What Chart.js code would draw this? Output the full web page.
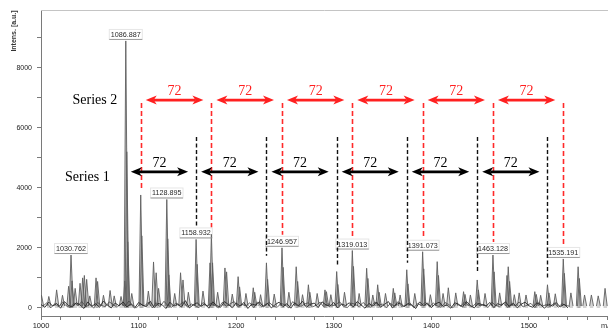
<!DOCTYPE html>
<html>
<head>
<meta charset="utf-8">
<script src="https://cdn.jsdelivr.net/npm/chart.js@4/dist/chart.umd.min.js"></script>
<style>
  html, body { margin: 0; padding: 0; background: #fff; }
  #wrap { width: 608px; height: 333px; }
</style>
</head>
<body>
<div id="wrap"><canvas id="c" width="608" height="333"></canvas></div>
<script>
// Peak list of the spectrum: m/z and intensity [a.u.]
const peakMz = [
  1000.5, 1008, 1016, 1022, 1028.3, 1030.762, 1031.8, 1035, 1040, 1042.7,
  1044.4, 1046.8, 1050, 1056.4, 1058, 1064, 1070.8, 1075, 1082, 1085.9,
  1086.887, 1087.9, 1088.9, 1093, 1102.2, 1103.3, 1110, 1115.3, 1118, 1120.5,
  1128.895, 1129.9, 1131, 1137, 1143, 1145.5, 1151, 1158.932, 1160, 1166,
  1173.2, 1174.6, 1175.8, 1181, 1188.5, 1190.2, 1196, 1202, 1203.5, 1210,
  1217.5, 1219, 1225, 1231.0, 1232.2, 1239, 1246.957, 1248.1, 1254, 1261.5,
  1263, 1268, 1274, 1275.5, 1283, 1291, 1292.5, 1297, 1303.0, 1304.2,
  1311, 1319.013, 1320.2, 1326, 1333.7, 1335, 1340, 1345, 1346.5, 1353,
  1361, 1362.5, 1368, 1374.8, 1376, 1383, 1391.073, 1392.2, 1399, 1406,
  1407.3, 1412, 1417.4, 1425, 1433, 1434.5, 1440, 1447.0, 1448.2, 1455,
  1463.128, 1464.3, 1470, 1477.5, 1478.8, 1480.2, 1485, 1490, 1497, 1506,
  1507.5, 1512, 1519.0, 1520.5, 1527, 1535.191, 1536.3, 1543, 1550.4, 1551.6,
  1557, 1564, 1571, 1578
];
const peakInt = [
  420, 380, 600, 420, 720, 1760, 900, 650, 820, 1000,
  1080, 950, 400, 1000, 880, 420, 580, 400, 380, 900,
  8890, 5200, 2200, 480, 3760, 2400, 560, 1530, 1170, 650,
  3610, 2300, 1100, 480, 1170, 930, 520, 2280, 1450, 560,
  1500, 2450, 1500, 520, 1330, 1200, 460, 1040, 700, 480,
  670, 520, 440, 1500, 950, 460, 2000, 1350, 520, 1370,
  880, 440, 770, 520, 480, 600, 540, 440, 1210, 780,
  520, 1910, 1380, 480, 1320, 980, 430, 770, 520, 480,
  650, 500, 430, 1270, 800, 480, 1870, 1300, 440, 1540,
  1080, 480, 670, 500, 540, 450, 430, 930, 600, 480,
  1760, 1200, 500, 1080, 1370, 880, 440, 500, 430, 540,
  450, 420, 770, 500, 470, 1630, 1150, 500, 1370, 980,
  430, 430, 400, 650
];

// Baseline noise of two overlaid acquisitions, one value every 4 m/z
const noiseStep = 4;
const noiseA = [
  110, 20, 190, 60, 150, -10, 210, 80, 30, 170, 100, -20, 200, 50, 140, 20, 230, 90, 0, 160,
  70, 200, 30, 130, -10, 180, 90, 40, 220, 10, 150, 110, -20, 190, 60, 120, 30, 240, 0, 100,
  170, 50, 140, -10, 200, 80, 20, 210, 110, 10, 160, 60, 180, -20, 130, 90, 200, 30, 150, 0,
  110, 190, 40, 140, -10, 170, 70, 220, 20, 120, 160, 10, 200, 100, 50, 180, 0, 130, 80, 170,
  30, 210, 100, -10, 150, 60, 190, 20, 120, 210, 0, 110, 170, 40, 140, 90, -20, 200, 70, 160,
  10, 130, 190, 50, 100, -10, 170, 120, 30, 210, 80, 0, 150, 110, 60, 180, 10, 140, 90, 200,
  40, 160, 0, 120, 190, 70, 20, 170, 100, -10, 130, 60, 180, 30, 120, 0
];
const noiseB = [
  60, 170, 0, 140, 40, 190, 70, 10, 160, 90, 210, 30, 120, -10, 180, 80, 40, 200, 110, 20,
  150, 50, 230, 90, 10, 140, 60, 190, 0, 170, 40, 220, 80, 20, 160, 100, 200, 30, 130, 70,
  10, 180, 60, 150, 90, 0, 190, 50, 140, 210, 30, 120, 70, 170, 10, 200, 40, 110, 180, 60,
  20, 150, 100, 0, 210, 80, 40, 130, 170, 30, 90, 190, 20, 140, 60, 110, 200, 50, 10, 160,
  120, 40, 180, 70, 20, 200, 90, 130, 0, 150, 60, 210, 30, 100, 170, 10, 140, 80, 190, 40,
  160, 70, 20, 180, 110, 0, 150, 50, 200, 90, 30, 170, 60, 120, 10, 190, 80, 40, 160, 20,
  130, 70, 200, 30, 90, 150, 10, 180, 60, 110, 40, 170, 20, 140, 80, 50
];

// Annotated peaks
const labeledPeaks = [1030.762, 1086.887, 1128.895, 1158.932, 1246.957, 1319.013, 1391.073, 1463.128, 1535.191];

// Two homologous series spaced by 72
const series1 = [1086.887, 1158.932, 1231.0, 1303.0, 1374.8, 1447.0, 1519.0];
const series2 = [1102.2, 1174.6, 1246.957, 1319.013, 1391.073, 1463.128, 1535.191];
const seriesNames = ['Series 1', 'Series 2'];

// Axis ranges and tick marks (labelled every 2000 / every 100)
const xRange = [1000, 1581];
const yRange = [-270, 9920];
const yTicks = [0, 1000, 2000, 3000, 4000, 5000, 6000, 7000, 8000, 9000];

const FONT = '"Liberation Sans", Arial, sans-serif';
const SERIF = '"Liberation Serif", "Times New Roman", serif';
Chart.defaults.font.family = FONT;

// Stick spectrum: each peak drawn as a narrow spike on the baseline
const BASE = 60;
const spikeData = [];
peakMz.forEach((mz, i) => {
  spikeData.push({ x: mz - 1.8, y: BASE });
  spikeData.push({ x: mz, y: peakInt[i] });
  spikeData.push({ x: mz + 2.2, y: BASE });
  spikeData.push({ x: mz + 2.2, y: null });
});
const noiseDataA = noiseA.map((v, i) => ({ x: xRange[0] + i * noiseStep, y: v }));
const noiseDataB = noiseB.map((v, i) => ({ x: xRange[0] + 2 + i * noiseStep, y: v }));

function heightAt(mz) {
  const i = peakMz.indexOf(mz);
  return i >= 0 ? peakInt[i] : 0;
}

function drawArrow(ctx, x1, x2, y, color) {
  const head = 11, half = 4.5, notch = 3;
  ctx.save();
  ctx.strokeStyle = color;
  ctx.fillStyle = color;
  ctx.lineWidth = 2.6;
  ctx.beginPath();
  ctx.moveTo(x1 + head - notch, y);
  ctx.lineTo(x2 - head + notch, y);
  ctx.stroke();
  ctx.beginPath();
  ctx.moveTo(x1, y);
  ctx.lineTo(x1 + head, y - half);
  ctx.lineTo(x1 + head - notch, y);
  ctx.lineTo(x1 + head, y + half);
  ctx.closePath();
  ctx.fill();
  ctx.beginPath();
  ctx.moveTo(x2, y);
  ctx.lineTo(x2 - head, y - half);
  ctx.lineTo(x2 - head + notch, y);
  ctx.lineTo(x2 - head, y + half);
  ctx.closePath();
  ctx.fill();
  ctx.restore();
}

const annotations = {
  id: 'annotations',
  afterDraw(chart) {
    const { ctx, chartArea: ca } = chart;
    const xs = chart.scales.x, ys = chart.scales.y;
    ctx.save();

    // top frame
    ctx.strokeStyle = '#c4c4c4';
    ctx.lineWidth = 1;
    ctx.beginPath();
    ctx.moveTo(ca.left, ca.top + 0.5);
    ctx.lineTo(ca.right, ca.top + 0.5);
    ctx.stroke();

    // y axis title
    ctx.save();
    ctx.translate(14.5, 31);
    ctx.rotate(-Math.PI / 2);
    ctx.font = 'bold 7px ' + FONT;
    ctx.fillStyle = '#333';
    ctx.textAlign = 'center';
    ctx.textBaseline = 'middle';
    ctx.fillText('Intens. [a.u.]', 0, 0);
    ctx.restore();

    // x axis title (runs off the right edge)
    ctx.font = '7.5px ' + FONT;
    ctx.fillStyle = '#333';
    ctx.textAlign = 'left';
    ctx.textBaseline = 'middle';
    ctx.fillText('m/z', 601, 326);

    // peak labels
    ctx.font = '7.2px ' + FONT;
    ctx.textAlign = 'center';
    ctx.textBaseline = 'middle';
    ctx.lineWidth = 1;
    labeledPeaks.forEach(mz => {
      const px = xs.getPixelForValue(mz);
      const py = ys.getPixelForValue(heightAt(mz));
      const txt = mz.toFixed(3);
      const w = ctx.measureText(txt).width;
      ctx.strokeStyle = 'rgba(0,0,0,0.10)';
      ctx.strokeRect(px - w / 2 - 1.5, py - 11.5, w + 3, 10);
      ctx.strokeStyle = '#9a9a9a';
      ctx.beginPath();
      ctx.moveTo(px - w / 2 - 1.5, py - 1.5);
      ctx.lineTo(px + w / 2 + 1.5, py - 1.5);
      ctx.stroke();
      ctx.fillStyle = '#2a2a2a';
      ctx.fillText(txt, px, py - 6);
    });

    const labeled = new Set(labeledPeaks);
    function dashBottom(mz) {
      const py = ys.getPixelForValue(heightAt(mz));
      return labeled.has(mz) ? py - 13 : py - 7;
    }

    // series 2 dashed markers (red)
    ctx.setLineDash([5, 3]);
    ctx.strokeStyle = '#ff2a2a';
    ctx.lineWidth = 1.6;
    const redTop = ys.getPixelForValue(6820);
    series2.forEach(mz => {
      const px = Math.round(xs.getPixelForValue(mz)) + 0.5;
      ctx.beginPath();
      ctx.moveTo(px, redTop);
      ctx.lineTo(px, dashBottom(mz));
      ctx.stroke();
    });

    // series 1 dashed markers (black)
    ctx.setLineDash([4, 2.5]);
    ctx.strokeStyle = '#111';
    ctx.lineWidth = 1.4;
    const blackTop = ys.getPixelForValue(5690);
    series1.slice(1).forEach(mz => {
      const px = Math.round(xs.getPixelForValue(mz)) + 0.5;
      ctx.beginPath();
      ctx.moveTo(px, blackTop);
      ctx.lineTo(px, dashBottom(mz));
      ctx.stroke();
    });
    ctx.setLineDash([]);

    // spacing arrows and their labels
    function drawSpacing(list, yArrow, yText, color) {
      for (let i = 0; i < list.length - 1; i++) {
        const a = xs.getPixelForValue(list[i]) + 5;
        const b = xs.getPixelForValue(list[i + 1]) - 8;
        drawArrow(ctx, a, b, yArrow, color);
        ctx.font = '14px ' + SERIF;
        ctx.fillStyle = color;
        ctx.textAlign = 'center';
        ctx.textBaseline = 'alphabetic';
        ctx.fillText(String(Math.round(list[i + 1] - list[i])), (a + b) / 2, yText);
      }
    }
    drawSpacing(series2, ys.getPixelForValue(6920), 95, '#ff2020');
    drawSpacing(series1, ys.getPixelForValue(4530), 166.7, '#000');

    // series names
    ctx.font = '14px ' + SERIF;
    ctx.fillStyle = '#000';
    ctx.textAlign = 'left';
    ctx.textBaseline = 'alphabetic';
    ctx.fillText(seriesNames[1], 72.5, 104);
    ctx.fillText(seriesNames[0], 65, 180.7);

    ctx.restore();
  }
};

new Chart(document.getElementById('c'), {
  type: 'line',
  data: {
    datasets: [
      {
        label: 'baseline A',
        data: noiseDataA,
        borderColor: 'rgba(40,40,40,0.9)',
        borderWidth: 1,
        pointRadius: 0,
        fill: false,
        tension: 0
      },
      {
        label: 'baseline B',
        data: noiseDataB,
        borderColor: 'rgba(70,70,70,0.8)',
        borderWidth: 1,
        pointRadius: 0,
        fill: false,
        tension: 0
      },
      {
        label: 'spectrum',
        data: spikeData,
        borderColor: 'rgba(95,95,95,0.9)',
        backgroundColor: 'rgba(160,160,160,0.45)',
        borderWidth: 1,
        pointRadius: 0,
        fill: 'origin',
        spanGaps: false,
        tension: 0
      }
    ]
  },
  options: {
    responsive: false,
    animation: false,
    devicePixelRatio: 1,
    layout: { padding: { top: 10, right: 0, left: 0, bottom: 0 } },
    plugins: { legend: { display: false }, tooltip: { enabled: false } },
    scales: {
      x: {
        type: 'linear',
        min: xRange[0],
        max: xRange[1],
        border: { color: '#7a7a7a', width: 1 },
        grid: { drawOnChartArea: false, drawTicks: true, tickLength: 4, color: '#7a7a7a' },
        ticks: {
          stepSize: 20,
          maxTicksLimit: 60,
          autoSkip: false,
          maxRotation: 0,
          includeBounds: false,
          padding: 1,
          color: '#222',
          font: { size: 7.5 },
          callback: v => (v % 100 === 0 ? String(v) : '')
        },
        afterFit: s => { s.height = 17; }
      },
      y: {
        type: 'linear',
        min: yRange[0],
        max: yRange[1],
        border: { color: '#7a7a7a', width: 1 },
        grid: { drawOnChartArea: false, drawTicks: true, tickLength: 4, color: '#7a7a7a' },
        afterBuildTicks: s => { s.ticks = yTicks.map(v => ({ value: v })); },
        ticks: {
          autoSkip: false,
          padding: 5,
          color: '#222',
          font: { size: 7 },
          callback: v => (v % 2000 === 0 ? String(v) : '')
        },
        afterFit: s => { s.width = 41; }
      }
    }
  },
  plugins: [annotations]
});
</script>
</body>
</html>
